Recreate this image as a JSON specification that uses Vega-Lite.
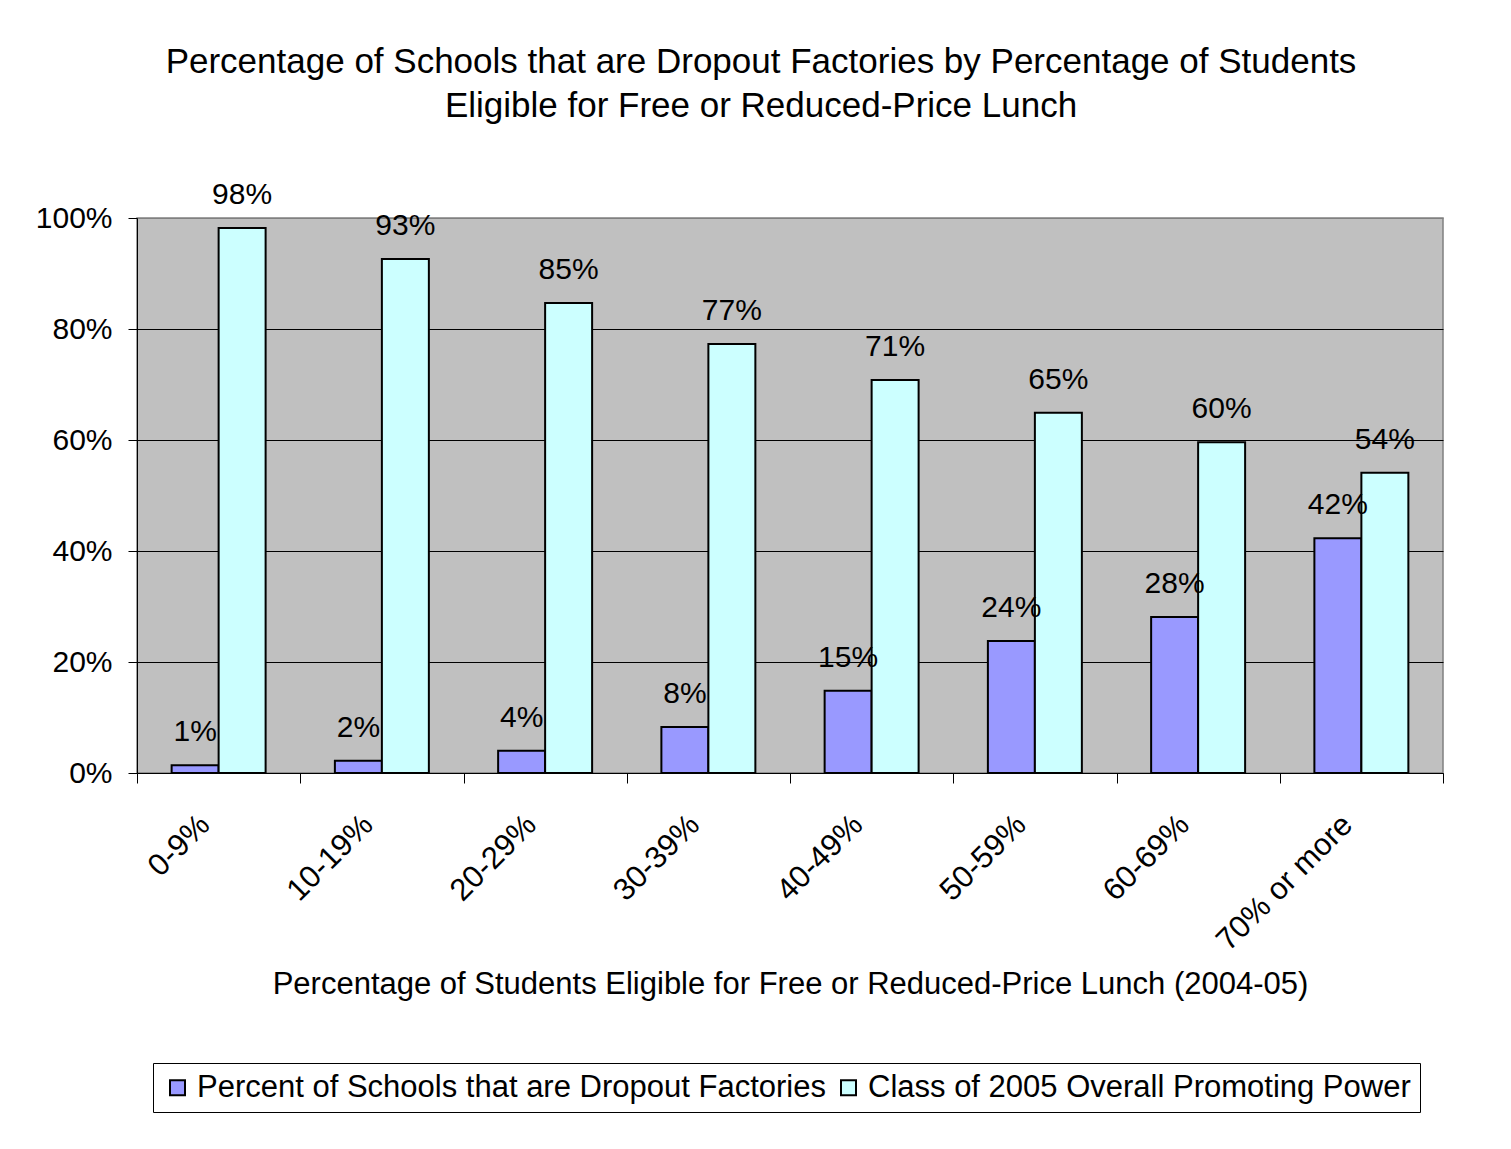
{
  "$schema": "https://vega.github.io/schema/vega-lite/v6.json",
  "autosize": {"type": "none"},
  "width": 1306,
  "height": 555,
  "padding": {"left": 137, "top": 218, "right": 68, "bottom": 376},
  "background": "white",
  "title": {
    "text": ["Percentage of Schools that are Dropout Factories by Percentage of Students", "Eligible for Free or Reduced-Price Lunch"],
    "font": "Liberation Sans",
    "fontSize": 35,
    "fontWeight": "normal",
    "color": "black",
    "anchor": "middle",
    "dx": -29,
    "offset": 56,
    "lineHeight": 44
  },
  "data": {
    "values": [
      {"cat": "0-9%", "series": "Percent of Schools that are Dropout Factories", "value": 0.014},
      {"cat": "0-9%", "series": "Class of 2005 Overall Promoting Power", "value": 0.982},
      {"cat": "10-19%", "series": "Percent of Schools that are Dropout Factories", "value": 0.022},
      {"cat": "10-19%", "series": "Class of 2005 Overall Promoting Power", "value": 0.926},
      {"cat": "20-29%", "series": "Percent of Schools that are Dropout Factories", "value": 0.04},
      {"cat": "20-29%", "series": "Class of 2005 Overall Promoting Power", "value": 0.847},
      {"cat": "30-39%", "series": "Percent of Schools that are Dropout Factories", "value": 0.083},
      {"cat": "30-39%", "series": "Class of 2005 Overall Promoting Power", "value": 0.773},
      {"cat": "40-49%", "series": "Percent of Schools that are Dropout Factories", "value": 0.148},
      {"cat": "40-49%", "series": "Class of 2005 Overall Promoting Power", "value": 0.708},
      {"cat": "50-59%", "series": "Percent of Schools that are Dropout Factories", "value": 0.238},
      {"cat": "50-59%", "series": "Class of 2005 Overall Promoting Power", "value": 0.649},
      {"cat": "60-69%", "series": "Percent of Schools that are Dropout Factories", "value": 0.281},
      {"cat": "60-69%", "series": "Class of 2005 Overall Promoting Power", "value": 0.596},
      {"cat": "70% or more", "series": "Percent of Schools that are Dropout Factories", "value": 0.423},
      {"cat": "70% or more", "series": "Class of 2005 Overall Promoting Power", "value": 0.541}
    ]
  },
  "encoding": {
    "x": {
      "field": "cat",
      "type": "nominal",
      "sort": null,
      "scale": {"paddingInner": 0, "paddingOuter": 0},
      "axis": {
        "title": "Percentage of Students Eligible for Free or Reduced-Price Lunch (2004-05)",
        "titleFont": "Liberation Sans",
        "titleFontSize": 31,
        "titleFontWeight": "normal",
        "titleColor": "black",
        "titlePadding": 13,
        "labelFont": "Liberation Sans",
        "labelFontSize": 31,
        "labelColor": "black",
        "labelAngle": -45,
        "labelAlign": "right",
        "labelBaseline": "middle",
        "labelPadding": 37,
        "labelOffset": -14,
        "labelLimit": 400,
        "tickBand": "extent",
        "tickSize": 10,
        "tickColor": "black",
        "domainColor": "black",
        "grid": false
      }
    },
    "xOffset": {
      "field": "series",
      "type": "nominal",
      "sort": ["Percent of Schools that are Dropout Factories", "Class of 2005 Overall Promoting Power"],
      "scale": {"paddingInner": 0, "paddingOuter": 0.737}
    },
    "y": {
      "field": "value",
      "type": "quantitative",
      "scale": {"domain": [0, 1]},
      "axis": {
        "title": null,
        "format": ".0%",
        "values": [0, 0.2, 0.4, 0.6, 0.8, 1],
        "labelFont": "Liberation Sans",
        "labelFontSize": 30,
        "labelColor": "black",
        "labelPadding": 16,
        "tickSize": 9,
        "tickColor": "black",
        "domainColor": "black",
        "grid": true,
        "gridColor": {"condition": {"test": "datum.value === 1", "value": "#808080"}, "value": "black"},
        "gridWidth": 1
      }
    }
  },
  "layer": [
    {
      "mark": {"type": "bar", "stroke": "black", "strokeWidth": 2},
      "encoding": {
        "color": {
          "field": "series",
          "type": "nominal",
          "sort": ["Percent of Schools that are Dropout Factories", "Class of 2005 Overall Promoting Power"],
          "scale": {
            "domain": ["Percent of Schools that are Dropout Factories", "Class of 2005 Overall Promoting Power"],
            "range": ["#9999FF", "#CCFFFF"]
          },
          "legend": {
            "title": null,
            "orient": "none",
            "legendX": 16,
            "legendY": 845,
            "direction": "horizontal",
            "symbolType": "square",
            "symbolSize": 225,
            "symbolStrokeColor": "black",
            "symbolStrokeWidth": 2,
            "labelFont": "Liberation Sans",
            "labelFontSize": 31,
            "labelColor": "black",
            "labelLimit": 800,
            "labelOffset": 4,
            "columnPadding": 7,
            "padding": 9,
            "strokeColor": "black",
            "fillColor": "white"
          }
        }
      }
    },
    {
      "mark": {"type": "text", "baseline": "middle", "dy": -33, "font": "Liberation Sans", "fontSize": 30, "color": "black"},
      "encoding": {
        "text": {"field": "value", "type": "quantitative", "format": ".0%"}
      }
    }
  ],
  "config": {
    "view": {"fill": "#C0C0C0", "stroke": "#808080", "strokeWidth": 1.5}
  }
}
